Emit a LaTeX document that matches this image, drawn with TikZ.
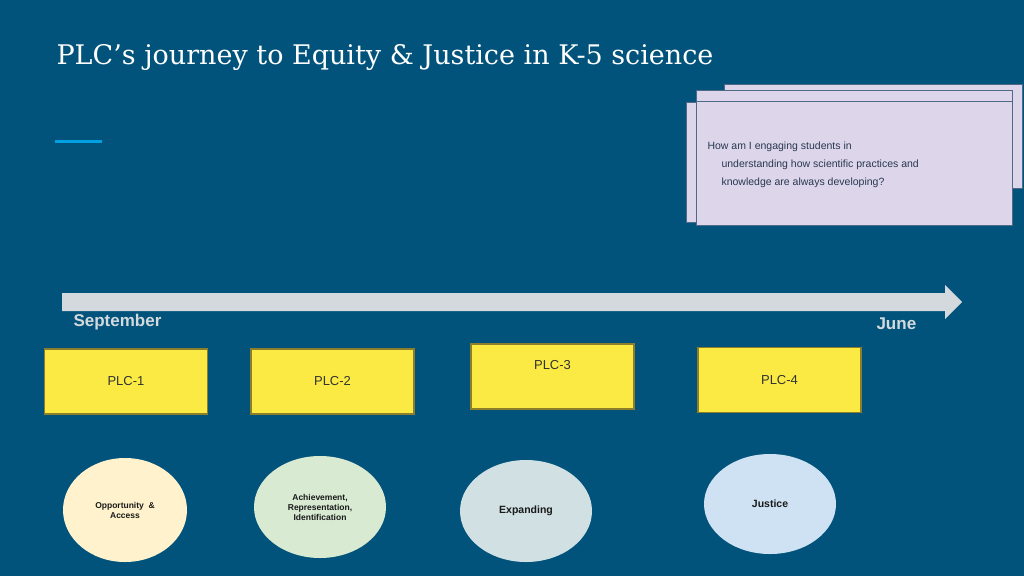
\documentclass[tikz,border=0pt]{standalone}
\usepackage{fontspec}
\setmainfont{Liberation Sans}
\newfontfamily\titlefont{DejaVu Serif}
\begin{document}
\begin{tikzpicture}[x=1pt,y=-1pt,
  card/.style={fill=cardc,draw=cardb,line width=0.8pt},
  plc/.style={fill=plcy,draw=plcb,line width=1.2pt,minimum width=163pt,minimum height=65pt,font=\fontsize{13}{15}\selectfont,text=black!80},
  bub/.style={ellipse,draw=none,font=\bfseries\fontsize{8.5}{10}\selectfont,align=center,text=black!90}]
\definecolor{bg}{HTML}{01537B}
\definecolor{cardc}{HTML}{DDD6EB}
\definecolor{cardb}{HTML}{4F6A86}
\definecolor{plcy}{HTML}{FBEA43}
\definecolor{plcb}{HTML}{8C7E2A}
\definecolor{barc}{HTML}{D3D9DD}
\usetikzlibrary{shapes.geometric}
\fill[bg] (0,0) rectangle (1024,576);
\useasboundingbox (0,0) rectangle (1024,576);
\node[anchor=west,text=white,font=\titlefont\fontsize{27}{30}\selectfont] (title) at (53,57) {PLC’s journey to Equity \& Justice in K-5 science};
\draw[color={rgb,255:red,0;green,160;blue,226},line width=3pt] (55,141) -- (102,141);
% cards
\draw[card] (724,84) rectangle (1022,188);
\draw[card] (686,102) rectangle (1000,222);
\draw[card] (696,90) rectangle (1012,112);
\draw[card] (696,101) rectangle (1012,225);
\node[anchor=north west,align=left,text={rgb,255:red,40;green,55;blue,80},font=\fontsize{10.5}{18}\selectfont] (q) at (704,138)
 {How am I engaging students in\\\hspace*{14pt}understanding how scientific practices and\\\hspace*{14pt}knowledge are always developing?};
% timeline
\fill[barc] (62,293) -- (945,293) -- (945,285) -- (962,302) -- (945,319) -- (945,311) -- (62,311) -- cycle;
\node[anchor=west,text=barc,font=\bfseries\fontsize{17}{20}\selectfont] (sep) at (70,322) {September};
\node[anchor=west,text=barc,font=\bfseries\fontsize{17}{20}\selectfont] (jun) at (873,324) {June};
% boxes
\node[plc] (p1) at (126,381.5) {PLC-1};
\node[plc] (p2) at (332.5,381.5) {PLC-2};
\node[plc,text depth=35pt,text height=20pt] (p3) at (552.5,376.5) {PLC-3};
\node[plc] (p4) at (779.5,380) {PLC-4};
% bubbles
\node[bub,fill={rgb,255:red,255;green,242;blue,204},minimum width=124pt,minimum height=104pt] (e1) at (125,510) {Opportunity \ \&\\Access};
\node[bub,fill={rgb,255:red,217;green,234;blue,211},minimum width=132pt,minimum height=102pt] (e2) at (320,507) {Achievement,\\Representation,\\Identification};
\node[bub,fill={rgb,255:red,208;green,224;blue,227},minimum width=132pt,minimum height=102pt,font=\bfseries\fontsize{10.5}{12}\selectfont] (e3) at (526,511) {Expanding};
\node[bub,fill={rgb,255:red,207;green,226;blue,243},minimum width=132pt,minimum height=100pt,font=\bfseries\fontsize{10.5}{12}\selectfont] (e4) at (770,504) {Justice};
\end{tikzpicture}
\end{document}
